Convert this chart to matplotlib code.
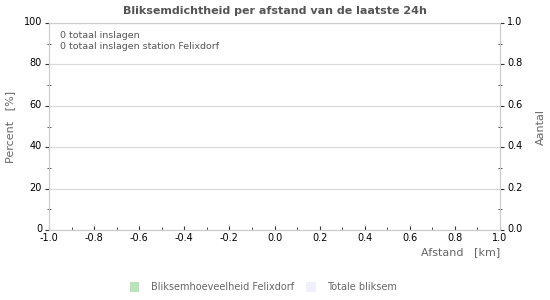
import matplotlib
matplotlib.use("Agg")
import matplotlib.pyplot as plt
import matplotlib.transforms as mtrans
from matplotlib.patches import Patch
from matplotlib.ticker import MultipleLocator

# Daten: in den letzten 24h keine Einschläge
afstand = []            # km
felixdorf_pct = []      # Percent
totaal_aantal = []      # Aantal
n_totaal = 0
n_station = 0

title = "Bliksemdichtheid per afstand van de laatste 24h"
green = "#b9e3b9"
lavender = "#f0f0fc"
grey = "#666666"
spine = "#cccccc"

fig = plt.figure(figsize=(5.5, 3.0), dpi=100)
ax = fig.add_axes([49 / 550, 1 - 230 / 300, 451 / 550, 207 / 300])
ax2 = ax.twinx()

ax.bar(afstand, felixdorf_pct, width=0.1, color=green)
ax2.bar(afstand, totaal_aantal, width=0.1, color=lavender)

ax.set_xlim(-1, 1)
ax.set_ylim(0, 100)
ax2.set_ylim(0, 1)
ax.xaxis.set_major_locator(MultipleLocator(0.2))
ax.xaxis.set_minor_locator(MultipleLocator(0.1))
ax.yaxis.set_major_locator(MultipleLocator(20))
ax.yaxis.set_minor_locator(MultipleLocator(10))
ax2.yaxis.set_major_locator(MultipleLocator(0.2))
ax2.yaxis.set_minor_locator(MultipleLocator(0.1))
ax.xaxis.set_major_formatter(lambda v, p: f"{v:.1f}")
ax2.yaxis.set_major_formatter(lambda v, p: f"{v:.1f}")

ax.grid(axis="y", color="#d8d8d8", linewidth=0.8)
ax.set_axisbelow(True)
for a in (ax, ax2):
    for s in a.spines.values():
        s.set_color(spine)
ax.tick_params(axis="x", which="both", direction="in", length=3, color="#333333",
               labelsize=7, pad=2)
ax.tick_params(axis="x", which="minor", length=2)
ax.tick_params(axis="y", which="major", direction="out", length=3, color="#333333",
               labelsize=7, pad=2)
ax.tick_params(axis="y", which="minor", direction="inout", length=3, color="#333333")
ax2.tick_params(axis="y", which="major", direction="out", length=3, color="#333333",
                labelsize=7, pad=2)
ax2.tick_params(axis="y", which="minor", direction="inout", length=3, color="#333333")

# y-Labels etwas nach oben, damit "0" nicht auf "-1.0" sitzt
up = mtrans.ScaledTranslation(0, 2 / 100, fig.dpi_scale_trans)
for lbl in ax.get_yticklabels() + ax2.get_yticklabels():
    lbl.set_transform(lbl.get_transform() + up)

fig.text(0.5, 1 - 11 / 300, title, ha="center", va="center", fontsize=8,
         fontweight="bold", color="#555555")
fig.text(500 / 550, 1 - 252 / 300, "Afstand   [km]", ha="right", va="center",
         fontsize=8, color=grey)
fig.text(10 / 550, 1 - 127 / 300, "Percent   [%]", ha="center", va="center",
         rotation=90, fontsize=8, color=grey)
fig.text(541 / 550, 1 - 127 / 300, "Aantal", ha="center", va="center",
         rotation=90, fontsize=8, color=grey)

ax.text(0.024, 0.96, f"{n_totaal} totaal inslagen\n{n_station} totaal inslagen station Felixdorf",
        transform=ax.transAxes, ha="left", va="top", fontsize=6.8, color="#555555",
        linespacing=1.2)

handles = [Patch(facecolor=green, edgecolor="none"),
           Patch(facecolor=lavender, edgecolor="none")]
fig.legend(handles, ["Bliksemhoeveelheid Felixdorf", "Totale bliksem"],
           loc="center left", bbox_to_anchor=(121 / 550, 1 - 287 / 300), ncol=2,
           frameon=False, fontsize=7, handlelength=1.0, handleheight=1.2,
           handletextpad=1.2, columnspacing=1.2, labelcolor=grey)

fig.savefig("out.png", dpi=100)
